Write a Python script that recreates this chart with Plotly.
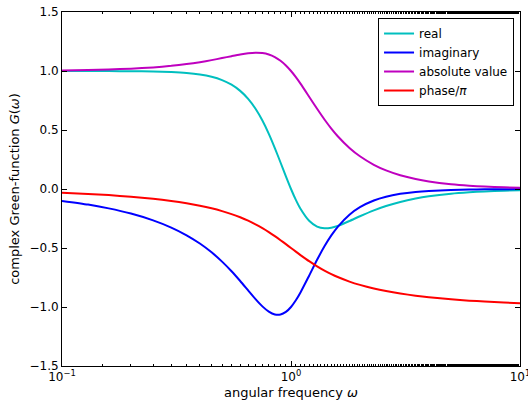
import plotly.graph_objects as go

omega = [0.1, 0.13, 0.16, 0.2, 0.25, 0.3, 0.35, 0.4, 0.45, 0.5, 0.55, 0.6, 0.65, 0.7,
         0.75, 0.8, 0.85, 0.9, 0.95, 1.0, 1.05, 1.1, 1.2, 1.3, 1.4, 1.5, 1.6, 1.8, 2.0,
         2.3, 2.6, 3.0, 3.5, 4.0, 5.0, 6.0, 7.0, 8.5, 10.0]
real = [1.000, 0.9997, 0.9993, 0.9983, 0.9959, 0.9912, 0.9832, 0.9704, 0.9511, 0.9231,
        0.8840, 0.8316, 0.7639, 0.6799, 0.5803, 0.4678, 0.3471, 0.2246, 0.1069, 0.0,
        -0.0921, -0.1675, -0.2693, -0.3185, -0.3332, -0.3279, -0.3124, -0.2713, -0.2308,
        -0.1811, -0.1442, -0.1096, -0.0811, -0.0622, -0.0399, -0.0278, -0.0204, -0.0138, -0.0100]
imag = [-0.1010, -0.1322, -0.1641, -0.2080, -0.2656, -0.3268, -0.3922, -0.4621, -0.5367,
        -0.6154, -0.6971, -0.7796, -0.8598, -0.9332, -0.9948, -1.0395, -1.0632, -1.0637,
        -1.0417, -1.0, -0.9434, -0.8771, -0.7346, -0.6002, -0.4858, -0.3934, -0.3204,
        -0.2180, -0.1538, -0.0971, -0.0651, -0.0411, -0.0252, -0.0166, -0.0083, -0.0048,
        -0.0030, -0.0017, -0.0010]
absval = [1.0050, 1.0084, 1.0127, 1.0198, 1.0307, 1.0436, 1.0585, 1.0748, 1.0921, 1.1094,
          1.1258, 1.1399, 1.1501, 1.1546, 1.1517, 1.1399, 1.1184, 1.0871, 1.0471, 1.0,
          0.9479, 0.8930, 0.7824, 0.6795, 0.5891, 0.5122, 0.4475, 0.3480, 0.2774, 0.2054,
          0.1582, 0.1170, 0.0849, 0.0644, 0.0408, 0.0282, 0.0206, 0.0139, 0.0101]
phase = [-0.0320, -0.0419, -0.0518, -0.0654, -0.0830, -0.1013, -0.1208, -0.1415, -0.1635,
         -0.1872, -0.2125, -0.2397, -0.2687, -0.2997, -0.3319, -0.3654, -0.3997, -0.4338,
         -0.4675, -0.5, -0.5310, -0.5601, -0.6119, -0.6553, -0.6914, -0.7211, -0.7460,
         -0.7845, -0.8128, -0.8434, -0.8650, -0.8858, -0.9041, -0.9171, -0.9346, -0.9460,
         -0.9539, -0.9622, -0.9680]

series = [
    ("real", real, "#00bfbf"),
    ("imaginary", imag, "#0000ff"),
    ("absolute value", absval, "#bf00bf"),
    ("phase/<i>π</i>", phase, "#ff0000"),
]

xticks = [0.1, 1, 10]
xticktext = ["10<sup>−1</sup>", "10<sup>0</sup>", "10<sup>1</sup>"]
yticks = [-1.5, -1.0, -0.5, 0.0, 0.5, 1.0, 1.5]
yticktext = ["−1.5", "−1.0", "−0.5", "0.0", "0.5", "1.0", "1.5"]

fig = go.Figure()
for name, vals, col in series:
    fig.add_trace(go.Scatter(x=omega, y=vals, mode="lines", name=name,
                             line=dict(color=col, width=2, shape="spline", smoothing=0.6)))

axis_common = dict(showgrid=False, zeroline=False, showline=True, linecolor="black",
                   linewidth=1, mirror="ticks", ticks="inside", tickcolor="black",
                   ticklen=5, tickwidth=1, ticklabeloverflow="allow", automargin=False,
                   tickfont=dict(family="DejaVu Sans", size=12, color="black"),
                   title_font=dict(family="DejaVu Sans", size=13, color="black"))

fig.update_xaxes(type="log", range=[-1, 1], tickvals=xticks, ticktext=xticktext,
                 title_text="angular frequency <i>ω</i>", title_standoff=4,
                 minor=dict(ticks="inside", ticklen=2, tickcolor="black", showgrid=False),
                 **axis_common)
fig.update_yaxes(range=[-1.5, 1.5], tickvals=yticks, ticktext=yticktext,
                 title_text="complex Green-function <i>G</i>(<i>ω</i>)", title_standoff=6,
                 **axis_common)

fig.update_layout(
    width=528, height=407,
    margin=dict(l=62, r=8, t=12, b=41),
    paper_bgcolor="white", plot_bgcolor="white",
    font=dict(family="DejaVu Sans", size=12, color="black"),
    legend=dict(x=0.987, y=0.983, xanchor="right", yanchor="top",
                bordercolor="black", borderwidth=1, bgcolor="white",
                font=dict(family="DejaVu Sans", size=12, color="black"),
                tracegroupgap=0, itemwidth=30),
    showlegend=True,
)

fig.write_html("out.html")
